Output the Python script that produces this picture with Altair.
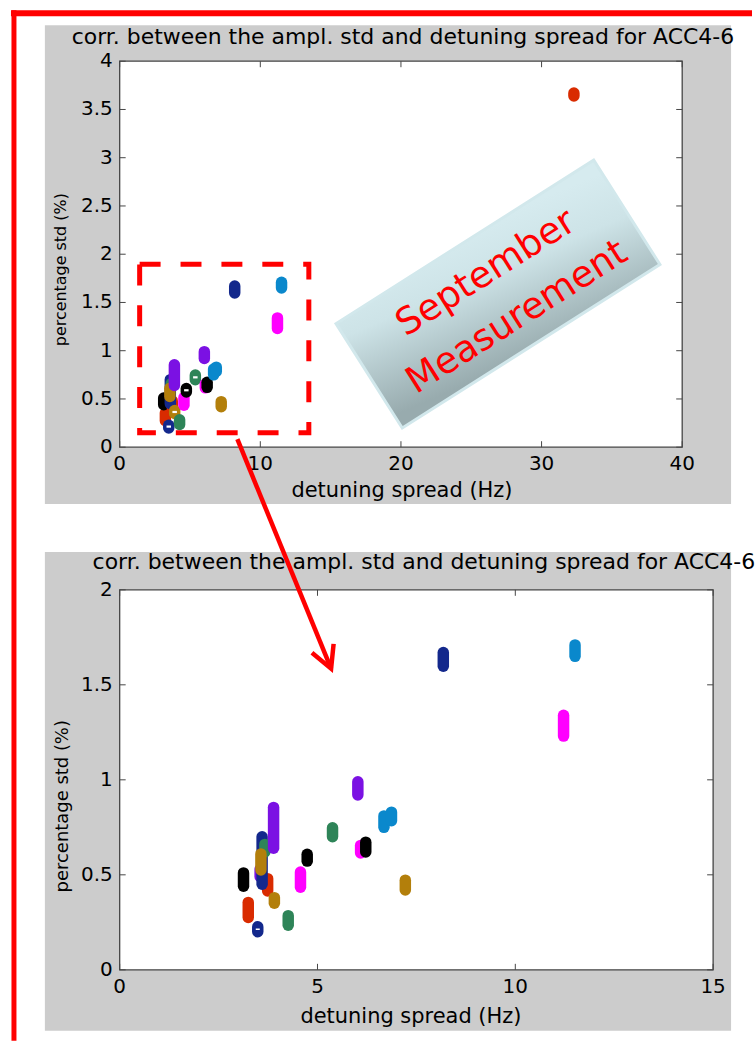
import altair as alt
import pandas as pd

# ---------------- data ----------------
TITLE = "corr. between the ampl. std and detuning spread for ACC4-6"
X_TITLE = "detuning spread (Hz)"
Y_TITLE = "percentage std (%)"

# each series: x (Hz), low / high of percentage std (%), colour
PT_X = [3.55, 3.25, 3.13, 3.49, 3.74, 3.60, 3.67, 3.57, 3.89, 3.91, 4.26, 4.57,
        4.74, 5.38, 6.02, 6.09, 6.22, 6.68, 6.87, 7.22, 8.18, 11.22, 11.51, 32.3]
PT_LO = [0.49, 0.275, 0.44, 0.200, 0.415, 0.45, 0.62, 0.525, 0.64, 0.35, 0.235, 0.435,
         0.572, 0.70, 0.92, 0.615, 0.62, 0.75, 0.785, 0.42, 1.598, 1.23, 1.65, 3.64]
PT_HI = [0.53, 0.355, 0.51, 0.227, 0.48, 0.70, 0.66, 0.61, 0.855, 0.38, 0.285, 0.515,
         0.608, 0.748, 0.99, 0.655, 0.672, 0.81, 0.83, 0.472, 1.67, 1.34, 1.71, 3.67]
PT_COLOR = ["#7b11e3", "#d92b00", "#000000", "#13288c", "#d92b00", "#13288c",
            "#2e8458", "#b37f0b", "#7b11e3", "#b37f0b", "#2e8458", "#ff00ff",
            "#000000", "#2e8458", "#7b11e3", "#ff00ff", "#000000", "#0a88cc",
            "#0a88cc", "#b37f0b", "#13288c", "#ff00ff", "#0a88cc", "#d92b00"]

# open-marker holes still visible
HOLE_TOP_X = [3.49, 3.91, 4.74, 5.38]
HOLE_TOP_Y = [0.2135, 0.365, 0.59, 0.724]
HOLE_BOT_X = [3.49]
HOLE_BOT_Y = [0.2135]

TOP_X_TICKS = [0, 10, 20, 30, 40]
TOP_Y_TICKS = [0, 0.5, 1, 1.5, 2, 2.5, 3, 3.5, 4]
BOT_X_TICKS = [0, 5, 10, 15]
BOT_Y_TICKS = [0, 0.5, 1, 1.5, 2]

ZOOM_BOX_X = [1.42, 13.45]
ZOOM_BOX_Y = [0.15, 1.897]
LABEL_LINES = ["September", "Measurement"]
LABEL_X = [26.05, 28.25]
LABEL_Y = [1.804, 1.345]
LABEL_BOX_CENTER = [26.9, 1.587]
ARROW_FROM = [2.975, 2.793]
ARROW_TO = [5.344, 1.585]

# ---------------- style ----------------
F = "DejaVu Sans"
BOX = "#454545"
GRAY = "#cccccc"
ONE = pd.DataFrame({"k": [0]})

pts = pd.DataFrame({"x": PT_X, "lo": PT_LO, "hi": PT_HI, "c": PT_COLOR})


def fmt(v):
    return f"{v:g}"


def panel(w, h, xdom, ydom, xticks, yticks, gray, df, hx, hy, hole_size,
          title_pos, xt_pos, yt_pos, yt_size, before=(), after=()):
    xs = alt.Scale(domain=xdom, nice=False, zero=False)
    ys = alt.Scale(domain=ydom, nice=False, zero=False)

    gray_rect = alt.Chart(ONE).mark_rect(color=GRAY).encode(
        x=alt.value(gray[0]), x2=alt.value(gray[1]), y=alt.value(gray[2]), y2=alt.value(gray[3]))
    white = alt.Chart(ONE).mark_rect(color="white").encode(
        x=alt.value(0), x2=alt.value(w), y=alt.value(0), y2=alt.value(h))
    frame = alt.Chart(ONE).mark_rect(filled=False, stroke=BOX, strokeWidth=1.3).encode(
        x=alt.value(0), x2=alt.value(w), y=alt.value(0), y2=alt.value(h))

    xt = pd.DataFrame({"v": xticks, "lab": [fmt(v) for v in xticks]})
    yt = pd.DataFrame({"v": yticks, "lab": [fmt(v) for v in yticks]})
    tl = 6
    tick_b = alt.Chart(xt).mark_rule(color=BOX, strokeWidth=1).encode(
        x=alt.X("v:Q", scale=xs, axis=None), y=alt.value(h), y2=alt.value(h - tl))
    tick_t = alt.Chart(xt).mark_rule(color=BOX, strokeWidth=1).encode(
        x=alt.X("v:Q", scale=xs, axis=None), y=alt.value(0), y2=alt.value(tl))
    tick_l = alt.Chart(yt).mark_rule(color=BOX, strokeWidth=1).encode(
        y=alt.Y("v:Q", scale=ys, axis=None), x=alt.value(0), x2=alt.value(tl))
    tick_r = alt.Chart(yt).mark_rule(color=BOX, strokeWidth=1).encode(
        y=alt.Y("v:Q", scale=ys, axis=None), x=alt.value(w), x2=alt.value(w - tl))

    xlab = alt.Chart(xt).mark_text(font=F, fontSize=20, color="black", align="center",
                                   baseline="top").encode(
        x=alt.X("v:Q", scale=xs, axis=None), y=alt.value(h + 7), text="lab:N")
    ylab = alt.Chart(yt).mark_text(font=F, fontSize=20, color="black", align="right",
                                   baseline="middle").encode(
        y=alt.Y("v:Q", scale=ys, axis=None), x=alt.value(-7), text="lab:N")
    xtitle = alt.Chart(ONE).mark_text(text=X_TITLE, font=F, fontSize=21, color="black",
                                      align="center", baseline="middle").encode(
        x=alt.value(xt_pos[0]), y=alt.value(h + xt_pos[1]))
    ytitle = alt.Chart(ONE).mark_text(text=Y_TITLE, font=F, fontSize=yt_size, color="black",
                                      align="center", baseline="middle", angle=270).encode(
        x=alt.value(yt_pos[0]), y=alt.value(yt_pos[1]))

    caps = alt.Chart(df).mark_rule(strokeWidth=11.5, strokeCap="round").encode(
        x=alt.X("x:Q", scale=xs, axis=None),
        y=alt.Y("lo:Q", scale=ys, axis=None),
        y2="hi:Q",
        color=alt.Color("c:N", scale=None),
    )
    holes = alt.Chart(pd.DataFrame({"x": hx, "y": hy})).mark_tick(
        orient="horizontal", color="white", size=hole_size[0], thickness=hole_size[1], opacity=1
    ).encode(x=alt.X("x:Q", scale=xs, axis=None), y=alt.Y("y:Q", scale=ys, axis=None))

    title = alt.Chart(ONE).mark_text(text=TITLE, font=F, fontSize=22, color="black",
                                     align="center", baseline="alphabetic").encode(
        x=alt.value(title_pos[0]), y=alt.value(title_pos[1]))

    layers = list(before) + [gray_rect, white, tick_b, tick_t, tick_l, tick_r, frame,
                             caps, holes, xlab, ylab, xtitle, ytitle, title]
    layers += [f(xs, ys) for f in after]
    return alt.layer(*layers).properties(width=w, height=h)


# ---------- top-panel extras ----------
def canvas_bg():
    return alt.Chart(ONE).mark_rect(color="white").encode(
        x=alt.value(-119), x2=alt.value(637), y=alt.value(-59), y2=alt.value(985))


def red_frame_top(xs, ys):
    return alt.Chart(ONE).mark_rule(color="#ff0000", strokeWidth=6).encode(
        x=alt.value(-109), x2=alt.value(634), y=alt.value(-48))


def red_frame_left(xs, ys):
    return alt.Chart(ONE).mark_rule(color="#ff0000", strokeWidth=5).encode(
        x=alt.value(-106), y=alt.value(-51), y2=alt.value(982))


def zoom_box(xs, ys):
    d = pd.DataFrame({"x1": [ZOOM_BOX_X[0]], "x2": [ZOOM_BOX_X[1]],
                      "y1": [ZOOM_BOX_Y[0]], "y2": [ZOOM_BOX_Y[1]]})
    return alt.Chart(d).mark_rect(filled=False, stroke="#ff0000", strokeWidth=5,
                                  strokeDash=[21, 20]).encode(
        x=alt.X("x1:Q", scale=xs, axis=None), x2="x2:Q",
        y=alt.Y("y1:Q", scale=ys, axis=None), y2="y2:Q")


def label_box(xs, ys):
    d = pd.DataFrame({"x": [LABEL_BOX_CENTER[0]], "y": [LABEL_BOX_CENTER[1]]})
    grad = alt.LinearGradient(
        gradient="linear",
        stops=[alt.GradientStop(color="#d6ebef", offset=0),
               alt.GradientStop(color="#cde3e7", offset=0.35),
               alt.GradientStop(color="#98abae", offset=1)],
        x1=0.7, y1=0, x2=0.3, y2=1)
    return alt.Chart(d).mark_point(
        shape="M -1 -0.405 L 1 -0.405 L 1 0.405 L -1 0.405 Z", size=93636, angle=327.6,
        filled=True, fill=grad, stroke="#d2e8ec", strokeWidth=3, opacity=1, fillOpacity=1
    ).encode(x=alt.X("x:Q", scale=xs, axis=None), y=alt.Y("y:Q", scale=ys, axis=None))


def label_text(xs, ys):
    d = pd.DataFrame({"t": LABEL_LINES, "x": LABEL_X, "y": LABEL_Y})
    return alt.Chart(d).mark_text(font=F, fontSize=37, color="#ff0000", angle=327.6,
                                  align="center", baseline="middle").encode(
        x=alt.X("x:Q", scale=xs, axis=None), y=alt.Y("y:Q", scale=ys, axis=None), text="t:N")


# ---------- bottom-panel extras ----------
def arrow_shaft(xs, ys):
    d = pd.DataFrame({"x": [ARROW_FROM[0]], "y": [ARROW_FROM[1]],
                      "x2": [ARROW_TO[0]], "y2": [ARROW_TO[1]]})
    return alt.Chart(d).mark_rule(color="#ff0000", strokeWidth=4.5).encode(
        x=alt.X("x:Q", scale=xs, axis=None), y=alt.Y("y:Q", scale=ys, axis=None),
        x2="x2:Q", y2="y2:Q")


def arrow_head(xs, ys):
    d = pd.DataFrame({"x": [ARROW_TO[0]], "y": [ARROW_TO[1]]})
    return alt.Chart(d).mark_point(
        shape="M -0.883 -0.469 L 0 0 L -0.883 0.469", size=2500, angle=67.8,
        filled=False, stroke="#ff0000", strokeWidth=4.5, opacity=1, strokeJoin="miter"
    ).encode(x=alt.X("x:Q", scale=xs, axis=None), y=alt.Y("y:Q", scale=ys, axis=None))


top = panel(564, 387, [0, 40], [0, 4], TOP_X_TICKS, TOP_Y_TICKS,
            gray=(-75, 613, -36, 444), df=pts, hx=HOLE_TOP_X, hy=HOLE_TOP_Y,
            hole_size=(4.5, 2.2), title_pos=(284, -17.5), xt_pos=(283, 44),
            yt_pos=(-59, 209), yt_size=16,
            before=[canvas_bg()],
            after=[red_frame_top, red_frame_left, zoom_box, label_box, label_text])

bottom = panel(595, 381, [0, 15], [0, 2], BOT_X_TICKS, BOT_Y_TICKS,
               gray=(-75, 613, -38, 442), df=pts[pts["x"] <= 15], hx=HOLE_BOT_X, hy=HOLE_BOT_Y,
               hole_size=(4, 1.5), title_pos=(305, -20.5), xt_pos=(292, 47),
               yt_pos=(-57, 217), yt_size=18,
               after=[arrow_shaft, arrow_head])

chart = alt.vconcat(top, bottom, spacing=143, bounds="flush").properties(
    padding=0, background="white"
).configure_view(stroke="transparent")

chart.save("out.html", embed_options={"renderer": "svg", "actions": False})
